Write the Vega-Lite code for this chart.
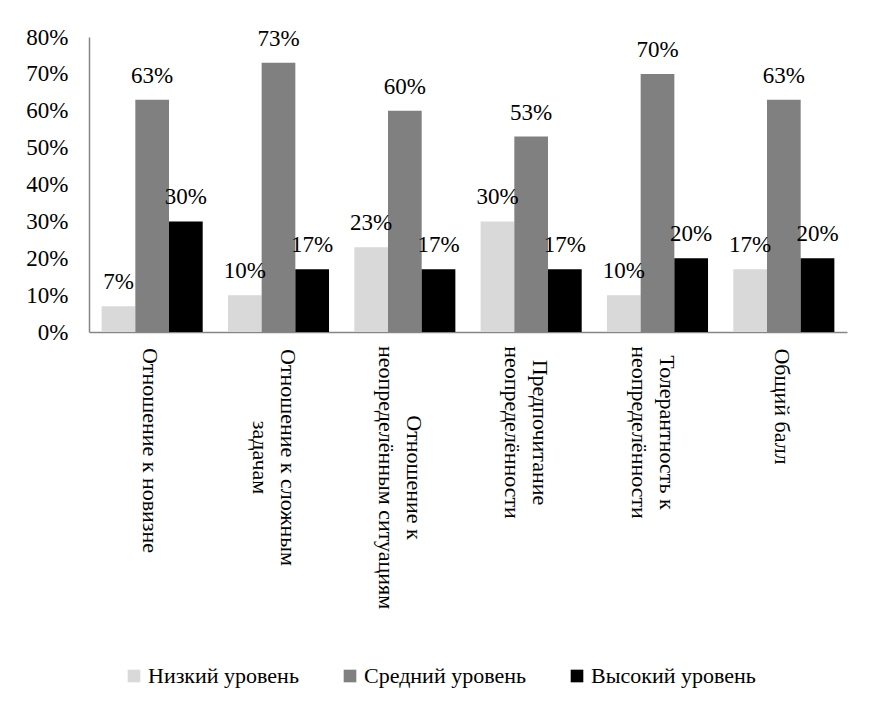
{
  "$schema": "https://vega.github.io/schema/vega-lite/v6.json",
  "width": 758,
  "height": 295,
  "autosize": {"type": "none"},
  "padding": {"left": 89, "top": 37, "right": 23, "bottom": 375},
  "background": "white",
  "config": {
    "view": {"stroke": null},
    "font": "Liberation Serif",
    "axis": {"grid": false, "ticks": false, "domainColor": "#868686", "domainWidth": 1.5, "labelFont": "Liberation Serif", "labelFontSize": 22, "labelColor": "black", "title": null},
    "legend": {"labelFont": "Liberation Serif", "labelFontSize": 22, "labelColor": "black", "labelLimit": 0}
  },
  "data": {
    "values": [
      {"category": "Отношение к новизне", "level": "Низкий уровень", "value": 0.07},
      {"category": "Отношение к новизне", "level": "Средний уровень", "value": 0.63},
      {"category": "Отношение к новизне", "level": "Высокий уровень", "value": 0.30},
      {"category": "Отношение к сложным|задачам", "level": "Низкий уровень", "value": 0.10},
      {"category": "Отношение к сложным|задачам", "level": "Средний уровень", "value": 0.73},
      {"category": "Отношение к сложным|задачам", "level": "Высокий уровень", "value": 0.17},
      {"category": "Отношение к|неопределённым ситуациям", "level": "Низкий уровень", "value": 0.23},
      {"category": "Отношение к|неопределённым ситуациям", "level": "Средний уровень", "value": 0.60},
      {"category": "Отношение к|неопределённым ситуациям", "level": "Высокий уровень", "value": 0.17},
      {"category": "Предпочитание|неопределённости", "level": "Низкий уровень", "value": 0.30},
      {"category": "Предпочитание|неопределённости", "level": "Средний уровень", "value": 0.53},
      {"category": "Предпочитание|неопределённости", "level": "Высокий уровень", "value": 0.17},
      {"category": "Толерантность к|неопределённости", "level": "Низкий уровень", "value": 0.10},
      {"category": "Толерантность к|неопределённости", "level": "Средний уровень", "value": 0.70},
      {"category": "Толерантность к|неопределённости", "level": "Высокий уровень", "value": 0.20},
      {"category": "Общий балл", "level": "Низкий уровень", "value": 0.17},
      {"category": "Общий балл", "level": "Средний уровень", "value": 0.63},
      {"category": "Общий балл", "level": "Высокий уровень", "value": 0.20}
    ]
  },
  "encoding": {
    "x": {
      "field": "category", "type": "nominal", "sort": null,
      "scale": {"paddingInner": 0.2, "paddingOuter": 0.1},
      "axis": {
        "labelAngle": 90, "labelAlign": "center", "labelBaseline": "middle", "labelLineHeight": 28,
        "labelExpr": "split(datum.label, '|')", "labelLimit": 0,
        "labelOffset": {
          "condition": {"test": "indexof(datum.value, '|') >= 0", "value": 9},
          "value": -2
        },
        "labelPadding": {
          "condition": [
            {"test": "datum.value === 'Отношение к новизне'", "value": 118},
            {"test": "datum.value === 'Отношение к сложным|задачам'", "value": 125},
            {"test": "datum.value === 'Отношение к|неопределённым ситуациям'", "value": 145},
            {"test": "datum.value === 'Предпочитание|неопределённости'", "value": 100},
            {"test": "datum.value === 'Толерантность к|неопределённости'", "value": 100}
          ],
          "value": 74
        }
      }
    },
    "xOffset": {"field": "level", "type": "nominal", "sort": ["Низкий уровень", "Средний уровень", "Высокий уровень"]},
    "y": {
      "field": "value", "type": "quantitative",
      "scale": {"domain": [0, 0.8]},
      "axis": {"values": [0, 0.1, 0.2, 0.3, 0.4, 0.5, 0.6, 0.7, 0.8], "format": ".0%", "labelPadding": 21, "labelFontSize": 23}
    }
  },
  "layer": [
    {
      "mark": {"type": "bar"},
      "encoding": {
        "color": {
          "field": "level", "type": "nominal",
          "sort": ["Низкий уровень", "Средний уровень", "Высокий уровень"],
          "scale": {"domain": ["Низкий уровень", "Средний уровень", "Высокий уровень"], "range": ["#d9d9d9", "#808080", "#000000"]},
          "legend": {"title": null, "orient": "none", "direction": "horizontal", "legendX": 34, "legendY": 628, "symbolType": "square", "symbolSize": 160, "symbolStrokeWidth": 0, "columnPadding": 40, "labelOffset": 3}
        }
      }
    },
    {
      "mark": {"type": "text", "baseline": "alphabetic", "dy": -17, "fontSize": 23, "font": "Liberation Serif", "color": "black"},
      "encoding": {
        "text": {"field": "value", "type": "quantitative", "format": ".0%"}
      }
    }
  ]
}
